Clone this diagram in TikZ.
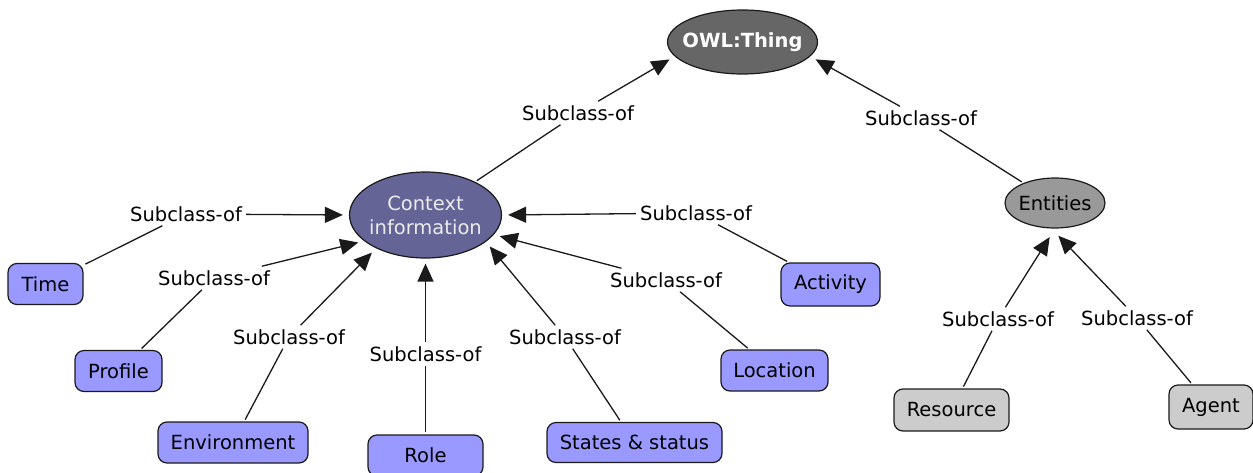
\documentclass[tikz,border=0pt]{standalone}
\usepackage{fontspec}
\setmainfont{DejaVu Sans}
\usetikzlibrary{arrows.meta,shapes.geometric}

\definecolor{conceptblue}{HTML}{9999FF}
\definecolor{contextfill}{HTML}{646496}
\definecolor{rootfill}{HTML}{666666}
\definecolor{entityfill}{HTML}{999999}
\definecolor{leafgrey}{HTML}{CCCCCC}
\definecolor{edgeline}{HTML}{1A1A1A}

\tikzset{
  concept/.style={rectangle, rounded corners=9pt, draw=edgeline, line width=1.2pt,
    fill=conceptblue, minimum height=41pt, inner sep=0pt, align=center},
  greybox/.style={concept, fill=leafgrey},
  % negative inner sep: the ellipse size is set by the minimum width/height only
  oval/.style={ellipse, draw=edgeline, line width=1.2pt, inner sep=-12pt, align=center},
  rel/.style={inner sep=4pt},
  link/.style={draw=edgeline, line width=1.3pt, shorten <=2pt},
  arr/.style={draw=edgeline, line width=1.3pt,
    -{Triangle[length=18pt,width=16pt]}, shorten >=6pt}
}

\begin{document}
\begin{tikzpicture}[x=1pt, y=-1pt, font=\fontsize{19.5}{24}\selectfont]
\useasboundingbox (0,0) rectangle (1253,472);

% concepts
\node[oval, fill=rootfill, text=white, font=\fontsize{19.5}{24}\selectfont\bfseries,
      minimum width=150pt, minimum height=64pt] (owl) at (742.5,42) {OWL:Thing};
\node[oval, fill=contextfill, text=white!92!black,
      minimum width=152pt, minimum height=86pt] (ctx) at (425.5,215) {Context\\information};
\node[oval, fill=entityfill, minimum width=100pt, minimum height=50pt] (ent) at (1055,203) {Entities};

\node[concept, minimum width=75pt]  (time)     at (45.5,284)  {Time};
\node[concept, minimum width=87pt]  (profile)  at (118.5,371) {Profile};
\node[concept, minimum width=150pt] (env)      at (233,442.5) {Environment};
\node[concept, minimum width=115pt] (role)     at (425.5,455.5) {Role};
\node[concept, minimum width=175pt, minimum height=40pt] (states) at (634.5,442.5) {States \& status};
\node[concept, minimum width=107pt] (location) at (774.5,370.5) {Location};
\node[concept, minimum width=99pt, minimum height=43pt] (activity) at (830.5,284.5) {Activity};
\node[greybox, minimum width=115pt, minimum height=42pt] (resource) at (951.5,410) {Resource};
\node[greybox, minimum width=84pt, minimum height=44pt]  (agent)    at (1211,407)  {Agent};

% relation labels
\node[rel] (l1)    at (578,113) {Subclass-of};
\node[rel] (l2)    at (921,118) {Subclass-of};
\node[rel] (ltime) at (186,214) {Subclass-of};
\node[rel] (lprof) at (214,278) {Subclass-of};
\node[rel] (lenv)  at (289,337) {Subclass-of};
\node[rel] (lrole) at (425.5,354) {Subclass-of};
\node[rel] (lstat) at (565,337) {Subclass-of};
\node[rel] (lloc)  at (666,280) {Subclass-of};
\node[rel] (lact)  at (696,213) {Subclass-of};
\node[rel] (lres)  at (998,319) {Subclass-of};
\node[rel] (lagt)  at (1137,318) {Subclass-of};

% subclass links: child -- label -> parent
\draw[link] (ctx) -- (l1);      \draw[arr] (l1) -- (owl.192);
\draw[link] (ent) -- (l2);      \draw[arr] (l2) -- (owl.348);

\draw[link] (time) -- (ltime);     \draw[arr] (ltime) -- (ctx.west);
\draw[link] (profile) -- (lprof);  \draw[arr] (lprof) -- (ctx.203);
\draw[link] (env) -- (lenv);       \draw[arr] (lenv) -- (ctx.214);
\draw[link] (role) -- (lrole);     \draw[arr, shorten >=5pt] (lrole) -- (ctx.south);
\draw[link] (states) -- (lstat);   \draw[arr] (lstat) -- (ctx.336);
\draw[link] (location) -- (lloc);  \draw[arr] (lloc) -- (ctx.344);
\draw[link] (activity) -- (lact);  \draw[arr] (lact) -- (ctx.east);

\draw[link] (resource) -- (lres);  \draw[arr, shorten >=10pt] (lres) -- (ent.270);
\draw[link] (agent) -- (lagt);     \draw[arr, shorten >=10pt] (lagt) -- (ent.262);
\end{tikzpicture}
\end{document}
